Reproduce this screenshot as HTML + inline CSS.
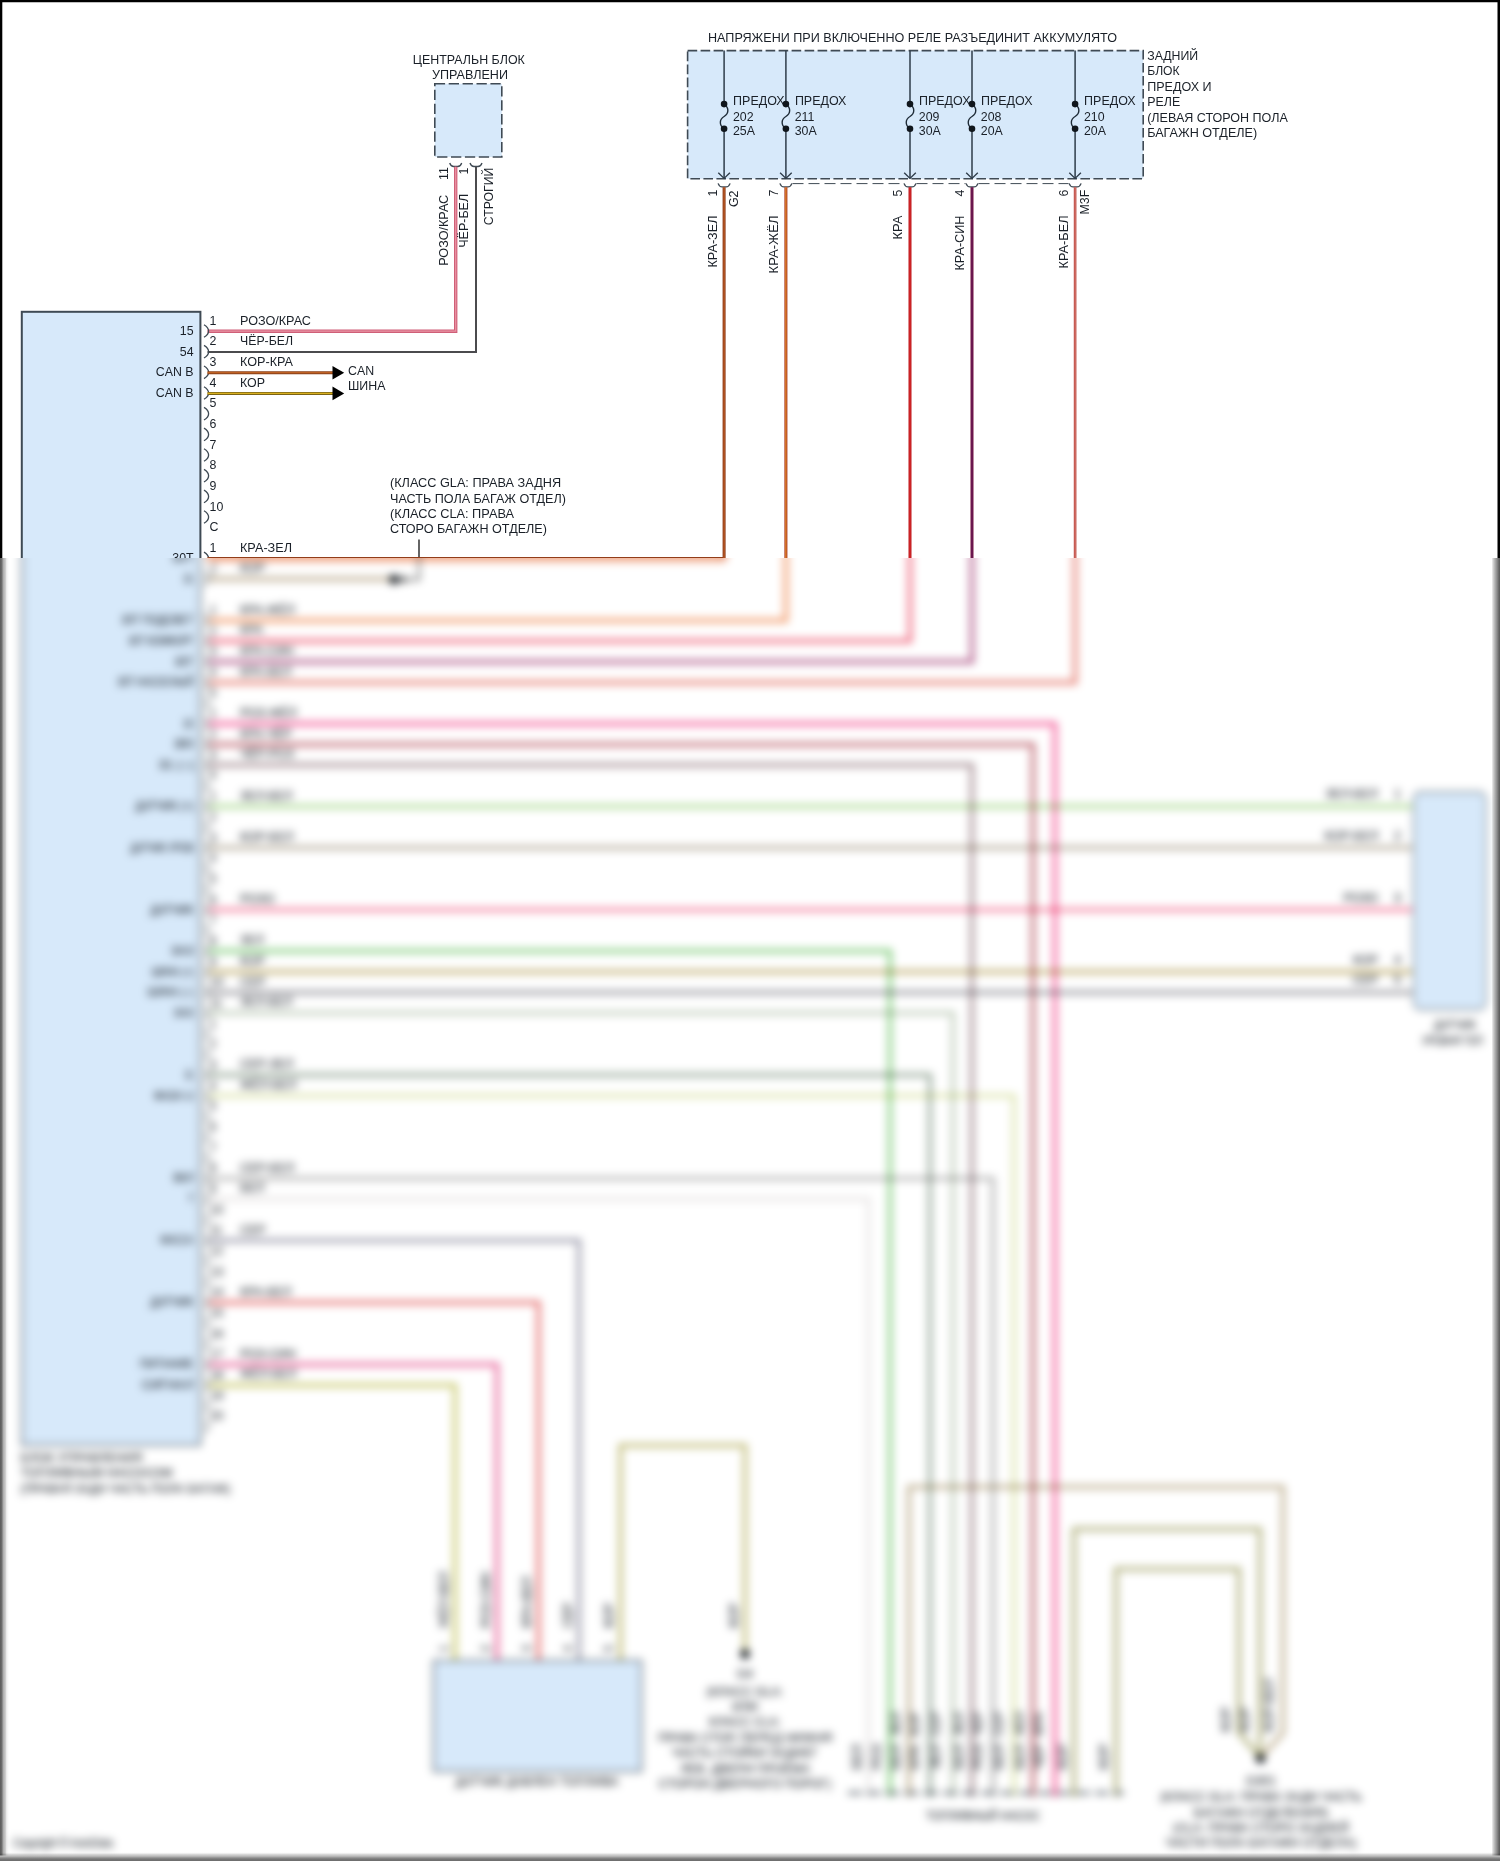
<!DOCTYPE html>
<html lang="ru"><head><meta charset="utf-8"><title>Схема</title>
<style>
html,body{margin:0;padding:0;background:#fff}
svg{display:block}
text{font-family:"Liberation Sans",sans-serif;font-size:13.1px;fill:#1a2028}
.w{mix-blend-mode:multiply}
.b text{stroke:#1a2028;stroke-width:.12px}
</style></head>
<body>
<svg width="1500" height="1861" viewBox="0 0 1500 1861">
<defs>
<filter id="bl" filterUnits="userSpaceOnUse" x="-60" y="440" width="1620" height="1520" color-interpolation-filters="sRGB"><feGaussianBlur stdDeviation="4"/></filter>
<linearGradient id="gl" x1="0" x2="1" y1="0" y2="0"><stop offset="0" stop-color="#000" stop-opacity=".63"/><stop offset=".14" stop-color="#000" stop-opacity=".61"/><stop offset=".28" stop-color="#000" stop-opacity=".45"/><stop offset=".39" stop-color="#000" stop-opacity=".31"/><stop offset=".5" stop-color="#000" stop-opacity=".25"/><stop offset=".61" stop-color="#000" stop-opacity=".19"/><stop offset=".72" stop-color="#000" stop-opacity=".08"/><stop offset=".85" stop-color="#000" stop-opacity=".03"/><stop offset="1" stop-color="#000" stop-opacity="0"/></linearGradient>
<linearGradient id="gr" x1="1" x2="0" y1="0" y2="0"><stop offset="0.0" stop-color="#000" stop-opacity="0.65"/><stop offset="0.111" stop-color="#000" stop-opacity="0.61"/><stop offset="0.333" stop-color="#000" stop-opacity="0.45"/><stop offset="0.556" stop-color="#000" stop-opacity="0.31"/><stop offset="0.778" stop-color="#000" stop-opacity="0.16"/><stop offset="0.944" stop-color="#000" stop-opacity="0"/><stop offset="1.0" stop-color="#000" stop-opacity="0"/></linearGradient>
<linearGradient id="gb" x1="0" x2="0" y1="1" y2="0"><stop offset="0.0" stop-color="#000" stop-opacity="0.57"/><stop offset="0.111" stop-color="#000" stop-opacity="0.56"/><stop offset="0.222" stop-color="#000" stop-opacity="0.52"/><stop offset="0.333" stop-color="#000" stop-opacity="0.45"/><stop offset="0.444" stop-color="#000" stop-opacity="0.35"/><stop offset="0.556" stop-color="#000" stop-opacity="0.25"/><stop offset="0.667" stop-color="#000" stop-opacity="0.2"/><stop offset="0.778" stop-color="#000" stop-opacity="0.12"/><stop offset="0.889" stop-color="#000" stop-opacity="0.02"/><stop offset="1.0" stop-color="#000" stop-opacity="0"/></linearGradient>
<filter id="idf" filterUnits="userSpaceOnUse" x="0" y="0" width="1500" height="600" color-interpolation-filters="sRGB"><feOffset dx="0" dy="0"/></filter>
<clipPath id="ct"><rect x="0" y="0" width="1500" height="558"/></clipPath>
<clipPath id="cb"><rect x="0" y="558" width="1500" height="1303"/></clipPath>
</defs>
<rect width="1500" height="1861" fill="#fff"/>
<g clip-path="url(#ct)"><g filter="url(#idf)">
<text transform="translate(468.8 63.8) scale(0.945 1)" text-anchor="middle" textLength="118.5" lengthAdjust="spacingAndGlyphs">ЦЕНТРАЛЬН БЛОК</text>
<text transform="translate(470 79.2) scale(0.945 1)" text-anchor="middle" textLength="80.4" lengthAdjust="spacingAndGlyphs">УПРАВЛЕНИ</text>
<rect x="434.8" y="83.8" width="67" height="73.2" fill="#d7e9fa" stroke="#3f4a54" stroke-width="1.6" stroke-dasharray="10.3 3.6"/>
<path d="M449.7 163 Q450.9 166.5 453.7 166.5 L457.7 166.5 Q460.5 166.5 461.7 163" stroke="#3f4a54" stroke-width="1.3" fill="none"/>
<path d="M470 163 Q471.2 166.5 474 166.5 L478 166.5 Q480.8 166.5 482 163" stroke="#3f4a54" stroke-width="1.3" fill="none"/>
<path d="M455.7 166.8 L455.7 331.2 L207.5 331.2" stroke="#cf5f78" stroke-width="3.4" fill="none" stroke-linejoin="miter"/><path d="M455.7 166.8 L455.7 331.2 L207.5 331.2" stroke="#ea94a4" stroke-width="1.2" fill="none" stroke-linejoin="miter"/>
<path d="M476 166.8 L476 352 L207.5 352" stroke="#4b4b4e" stroke-width="2.0" fill="none" stroke-linejoin="miter"/>
<text transform="translate(448.3 180) rotate(-90) scale(0.945 1)">11</text>
<text transform="translate(448.3 265.8) rotate(-90) scale(0.945 1)" textLength="75.1" lengthAdjust="spacingAndGlyphs">РОЗО/КРАС</text>
<text transform="translate(467.7 174.5) rotate(-90) scale(0.945 1)">1</text>
<text transform="translate(467.7 247.8) rotate(-90) scale(0.945 1)" textLength="57.1" lengthAdjust="spacingAndGlyphs">ЧЁР-БЕЛ</text>
<text transform="translate(492.6 225.2) rotate(-90) scale(0.945 1)" textLength="60.8" lengthAdjust="spacingAndGlyphs">СТРОГИЙ</text>
<text transform="translate(708 42.3) scale(0.945 1)" textLength="432.8" lengthAdjust="spacingAndGlyphs">НАПРЯЖЕНИ ПРИ ВКЛЮЧЕННО РЕЛЕ РАЗЪЕДИНИТ АККУМУЛЯТО</text>
<rect x="687.6" y="50.6" width="455.6" height="128.2" fill="#d7e9fa" stroke="#3f4a54" stroke-width="1.6" stroke-dasharray="9.6 3.4"/>
<path d="M792.5 183.6 H903.5 M916.5 183.6 H965.5 M978.5 183.6 H1068.5" stroke="#3f4a54" stroke-width="1" stroke-dasharray="11 5"/>
<path d="M724.1 50.6 V104 M724.1 128.7 V178.2" stroke="#2f3d4a" stroke-width="1.5"/>
<path d="M724.1 104 C729.6 108 728.6 114 724.1 116.5 C719.6 119 718.6 125 724.1 128.6" stroke="#1f2c38" stroke-width="1.4" fill="none"/>
<circle cx="724.1" cy="104.1" r="3.3" fill="#10161c"/><circle cx="724.1" cy="128.7" r="3.3" fill="#10161c"/>
<path d="M718.3000000000001 172.8 L724.1 178.4 L729.9 172.8" stroke="#2f3d4a" stroke-width="1.4" fill="none"/>
<path d="M718.1 183.4 Q719.3000000000001 186.9 722.1 186.9 L726.1 186.9 Q728.9 186.9 730.1 183.4" stroke="#3f4a54" stroke-width="1.3" fill="none"/>
<text transform="translate(733.1 105.4) scale(0.945 1)" textLength="54.5" lengthAdjust="spacingAndGlyphs">ПРЕДОХ</text>
<text transform="translate(732.9 121.1) scale(0.945 1)">202</text>
<text transform="translate(732.9 134.5) scale(0.945 1)">25A</text>
<path d="M785.9 50.6 V104 M785.9 128.7 V178.2" stroke="#2f3d4a" stroke-width="1.5"/>
<path d="M785.9 104 C791.4 108 790.4 114 785.9 116.5 C781.4 119 780.4 125 785.9 128.6" stroke="#1f2c38" stroke-width="1.4" fill="none"/>
<circle cx="785.9" cy="104.1" r="3.3" fill="#10161c"/><circle cx="785.9" cy="128.7" r="3.3" fill="#10161c"/>
<path d="M780.1 172.8 L785.9 178.4 L791.6999999999999 172.8" stroke="#2f3d4a" stroke-width="1.4" fill="none"/>
<path d="M779.9 183.4 Q781.1 186.9 783.9 186.9 L787.9 186.9 Q790.6999999999999 186.9 791.9 183.4" stroke="#3f4a54" stroke-width="1.3" fill="none"/>
<text transform="translate(794.9 105.4) scale(0.945 1)" textLength="54.5" lengthAdjust="spacingAndGlyphs">ПРЕДОХ</text>
<text transform="translate(794.6999999999999 121.1) scale(0.945 1)">211</text>
<text transform="translate(794.6999999999999 134.5) scale(0.945 1)">30A</text>
<path d="M910.0 50.6 V104 M910.0 128.7 V178.2" stroke="#2f3d4a" stroke-width="1.5"/>
<path d="M910.0 104 C915.5 108 914.5 114 910.0 116.5 C905.5 119 904.5 125 910.0 128.6" stroke="#1f2c38" stroke-width="1.4" fill="none"/>
<circle cx="910.0" cy="104.1" r="3.3" fill="#10161c"/><circle cx="910.0" cy="128.7" r="3.3" fill="#10161c"/>
<path d="M904.2 172.8 L910.0 178.4 L915.8 172.8" stroke="#2f3d4a" stroke-width="1.4" fill="none"/>
<path d="M904.0 183.4 Q905.2 186.9 908.0 186.9 L912.0 186.9 Q914.8 186.9 916.0 183.4" stroke="#3f4a54" stroke-width="1.3" fill="none"/>
<text transform="translate(919.0 105.4) scale(0.945 1)" textLength="54.5" lengthAdjust="spacingAndGlyphs">ПРЕДОХ</text>
<text transform="translate(918.8 121.1) scale(0.945 1)">209</text>
<text transform="translate(918.8 134.5) scale(0.945 1)">30A</text>
<path d="M972.0 50.6 V104 M972.0 128.7 V178.2" stroke="#2f3d4a" stroke-width="1.5"/>
<path d="M972.0 104 C977.5 108 976.5 114 972.0 116.5 C967.5 119 966.5 125 972.0 128.6" stroke="#1f2c38" stroke-width="1.4" fill="none"/>
<circle cx="972.0" cy="104.1" r="3.3" fill="#10161c"/><circle cx="972.0" cy="128.7" r="3.3" fill="#10161c"/>
<path d="M966.2 172.8 L972.0 178.4 L977.8 172.8" stroke="#2f3d4a" stroke-width="1.4" fill="none"/>
<path d="M966.0 183.4 Q967.2 186.9 970.0 186.9 L974.0 186.9 Q976.8 186.9 978.0 183.4" stroke="#3f4a54" stroke-width="1.3" fill="none"/>
<text transform="translate(981.0 105.4) scale(0.945 1)" textLength="54.5" lengthAdjust="spacingAndGlyphs">ПРЕДОХ</text>
<text transform="translate(980.8 121.1) scale(0.945 1)">208</text>
<text transform="translate(980.8 134.5) scale(0.945 1)">20A</text>
<path d="M1075.1 50.6 V104 M1075.1 128.7 V178.2" stroke="#2f3d4a" stroke-width="1.5"/>
<path d="M1075.1 104 C1080.6 108 1079.6 114 1075.1 116.5 C1070.6 119 1069.6 125 1075.1 128.6" stroke="#1f2c38" stroke-width="1.4" fill="none"/>
<circle cx="1075.1" cy="104.1" r="3.3" fill="#10161c"/><circle cx="1075.1" cy="128.7" r="3.3" fill="#10161c"/>
<path d="M1069.3 172.8 L1075.1 178.4 L1080.8999999999999 172.8" stroke="#2f3d4a" stroke-width="1.4" fill="none"/>
<path d="M1069.1 183.4 Q1070.3 186.9 1073.1 186.9 L1077.1 186.9 Q1079.8999999999999 186.9 1081.1 183.4" stroke="#3f4a54" stroke-width="1.3" fill="none"/>
<text transform="translate(1084.1 105.4) scale(0.945 1)" textLength="54.5" lengthAdjust="spacingAndGlyphs">ПРЕДОХ</text>
<text transform="translate(1083.8999999999999 121.1) scale(0.945 1)">210</text>
<text transform="translate(1083.8999999999999 134.5) scale(0.945 1)">20A</text>
<text transform="translate(1147.2 59.5) scale(0.945 1)" textLength="54.0" lengthAdjust="spacingAndGlyphs">ЗАДНИЙ</text>
<text transform="translate(1147.2 75.2) scale(0.945 1)" textLength="34.3" lengthAdjust="spacingAndGlyphs">БЛОК</text>
<text transform="translate(1147.2 90.6) scale(0.945 1)" textLength="68.1" lengthAdjust="spacingAndGlyphs">ПРЕДОХ И</text>
<text transform="translate(1147.2 106) scale(0.945 1)" textLength="34.9" lengthAdjust="spacingAndGlyphs">РЕЛЕ</text>
<text transform="translate(1147.2 121.6) scale(0.945 1)" textLength="148.8" lengthAdjust="spacingAndGlyphs">(ЛЕВАЯ СТОРОН ПОЛА</text>
<text transform="translate(1147.2 137) scale(0.945 1)" textLength="116.4" lengthAdjust="spacingAndGlyphs">БАГАЖН ОТДЕЛЕ)</text>
<path d="M785.9 187.2 L785.9 600" stroke="#a8321e" stroke-width="3.0" fill="none" stroke-linejoin="miter"/><path d="M785.9 187.2 L785.9 600" stroke="#f0a030" stroke-width="1.0" fill="none" stroke-linejoin="miter"/>
<path d="M910.0 187.2 L910.0 600" stroke="#be1a20" stroke-width="3.0" fill="none" stroke-linejoin="miter"/><path d="M910.0 187.2 L910.0 600" stroke="#d82a2a" stroke-width="1.0" fill="none" stroke-linejoin="miter"/>
<path d="M972.0 187.2 L972.0 600" stroke="#7a1440" stroke-width="3.0" fill="none" stroke-linejoin="miter"/><path d="M972.0 187.2 L972.0 600" stroke="#5a1a5c" stroke-width="1.0" fill="none" stroke-linejoin="miter"/>
<path d="M1075.1 187.2 L1075.1 600" stroke="#b43c36" stroke-width="2.6" fill="none" stroke-linejoin="miter"/><path d="M1075.1 187.2 L1075.1 600" stroke="#e08a80" stroke-width="1.0" fill="none" stroke-linejoin="miter"/>
<text transform="translate(716.5 196.5) rotate(-90) scale(0.945 1)">1</text>
<text transform="translate(738.4 207) rotate(-90) scale(0.945 1)">G2</text>
<text transform="translate(716.5 267.5) rotate(-90) scale(0.945 1)" textLength="55.0" lengthAdjust="spacingAndGlyphs">КРА-ЗЕЛ</text>
<text transform="translate(778.3 196.5) rotate(-90) scale(0.945 1)">7</text>
<text transform="translate(778.3 273.5) rotate(-90) scale(0.945 1)" textLength="61.4" lengthAdjust="spacingAndGlyphs">КРА-ЖЁЛ</text>
<text transform="translate(902.4 196.5) rotate(-90) scale(0.945 1)">5</text>
<text transform="translate(902.4 239.5) rotate(-90) scale(0.945 1)" textLength="25.4" lengthAdjust="spacingAndGlyphs">КРА</text>
<text transform="translate(964.4 196.5) rotate(-90) scale(0.945 1)">4</text>
<text transform="translate(964.4 270.5) rotate(-90) scale(0.945 1)" textLength="58.2" lengthAdjust="spacingAndGlyphs">КРА-СИН</text>
<text transform="translate(1067.5 196.5) rotate(-90) scale(0.945 1)">6</text>
<text transform="translate(1089.3999999999999 214.5) rotate(-90) scale(0.945 1)">M3F</text>
<text transform="translate(1067.5 268.5) rotate(-90) scale(0.945 1)" textLength="56.1" lengthAdjust="spacingAndGlyphs">КРА-БЕЛ</text>
<rect x="21.8" y="311.8" width="178.6" height="1133.4" fill="#d7e9fa" stroke="#3f4a54" stroke-width="2"/>
<text transform="translate(193.6 334.8) scale(0.945 1)" text-anchor="end">15</text>
<text transform="translate(193.6 355.5) scale(0.945 1)" text-anchor="end">54</text>
<text transform="translate(193.6 376.1) scale(0.945 1)" text-anchor="end">CAN B</text>
<text transform="translate(193.6 396.8) scale(0.945 1)" text-anchor="end">CAN B</text>
<text transform="translate(193.6 561.6) scale(0.945 1)" text-anchor="end">30T</text>
<text transform="translate(209.6 324.7) scale(0.945 1)">1</text>
<text transform="translate(209.6 345.4) scale(0.945 1)">2</text>
<text transform="translate(209.6 366.0) scale(0.945 1)">3</text>
<text transform="translate(209.6 386.7) scale(0.945 1)">4</text>
<text transform="translate(209.6 407.4) scale(0.945 1)">5</text>
<text transform="translate(209.6 428.09999999999997) scale(0.945 1)">6</text>
<text transform="translate(209.6 448.7) scale(0.945 1)">7</text>
<text transform="translate(209.6 469.4) scale(0.945 1)">8</text>
<text transform="translate(209.6 490.09999999999997) scale(0.945 1)">9</text>
<text transform="translate(209.6 510.7) scale(0.945 1)">10</text>
<text transform="translate(209.6 531.4000000000001) scale(0.945 1)">C</text>
<text transform="translate(209.6 552.1) scale(0.945 1)">1</text>
<path d="M204 324.7 Q208.6 327.5 208.6 331.0 Q208.6 334.5 204 337.3" stroke="#3f4a54" stroke-width="1.3" fill="none"/>
<path d="M204 345.4 Q208.6 348.2 208.6 351.7 Q208.6 355.2 204 358.0" stroke="#3f4a54" stroke-width="1.3" fill="none"/>
<path d="M204 366.0 Q208.6 368.8 208.6 372.3 Q208.6 375.8 204 378.6" stroke="#3f4a54" stroke-width="1.3" fill="none"/>
<path d="M204 386.7 Q208.6 389.5 208.6 393.0 Q208.6 396.5 204 399.3" stroke="#3f4a54" stroke-width="1.3" fill="none"/>
<path d="M204 407.4 Q208.6 410.2 208.6 413.7 Q208.6 417.2 204 420.0" stroke="#3f4a54" stroke-width="1.3" fill="none"/>
<path d="M204 428.09999999999997 Q208.6 430.9 208.6 434.4 Q208.6 437.9 204 440.7" stroke="#3f4a54" stroke-width="1.3" fill="none"/>
<path d="M204 448.7 Q208.6 451.5 208.6 455.0 Q208.6 458.5 204 461.3" stroke="#3f4a54" stroke-width="1.3" fill="none"/>
<path d="M204 469.4 Q208.6 472.2 208.6 475.7 Q208.6 479.2 204 482.0" stroke="#3f4a54" stroke-width="1.3" fill="none"/>
<path d="M204 490.09999999999997 Q208.6 492.9 208.6 496.4 Q208.6 499.9 204 502.7" stroke="#3f4a54" stroke-width="1.3" fill="none"/>
<path d="M204 510.7 Q208.6 513.5 208.6 517.0 Q208.6 520.5 204 523.3" stroke="#3f4a54" stroke-width="1.3" fill="none"/>
<path d="M204 552.1 Q208.6 554.9 208.6 558.4 Q208.6 561.9 204 564.6999999999999" stroke="#3f4a54" stroke-width="1.3" fill="none"/>
<text transform="translate(240 324.6) scale(0.945 1)" textLength="75.1" lengthAdjust="spacingAndGlyphs">РОЗО/КРАС</text>
<text transform="translate(240 345.3) scale(0.945 1)" textLength="56.1" lengthAdjust="spacingAndGlyphs">ЧЁР-БЕЛ</text>
<text transform="translate(240 365.90000000000003) scale(0.945 1)" textLength="56.1" lengthAdjust="spacingAndGlyphs">КОР-КРА</text>
<text transform="translate(240 386.6) scale(0.945 1)" textLength="26.5" lengthAdjust="spacingAndGlyphs">КОР</text>
<text transform="translate(240 552.0) scale(0.945 1)" textLength="55.0" lengthAdjust="spacingAndGlyphs">КРА-ЗЕЛ</text>
<path d="M207.5 372.7 L334 372.7" stroke="#8c4018" stroke-width="3.0" fill="none" stroke-linejoin="miter"/><path d="M207.5 372.7 L334 372.7" stroke="#cc6a28" stroke-width="1.0" fill="none" stroke-linejoin="miter"/>
<path d="M207.5 393.4 L334 393.4" stroke="#7c6414" stroke-width="3.0" fill="none" stroke-linejoin="miter"/><path d="M207.5 393.4 L334 393.4" stroke="#d8b020" stroke-width="1.1" fill="none" stroke-linejoin="miter"/>
<path d="M332.5 365.9 L344.2 372.7 L332.5 379.5 Z" fill="#000"/>
<path d="M332.5 386.59999999999997 L344.2 393.4 L332.5 400.2 Z" fill="#000"/>
<text transform="translate(348 375) scale(0.945 1)">CAN</text>
<text transform="translate(348 390.4) scale(0.945 1)">ШИНА</text>
<text transform="translate(390 487.2) scale(0.945 1)" textLength="181.0" lengthAdjust="spacingAndGlyphs">(КЛАСС GLA: ПРАВА ЗАДНЯ</text>
<text transform="translate(390 502.6) scale(0.945 1)" textLength="186.2" lengthAdjust="spacingAndGlyphs">ЧАСТЬ ПОЛА БАГАЖ ОТДЕЛ)</text>
<text transform="translate(390 518) scale(0.945 1)" textLength="131.2" lengthAdjust="spacingAndGlyphs">(КЛАСС CLA: ПРАВА</text>
<text transform="translate(390 533.4) scale(0.945 1)" textLength="166.1" lengthAdjust="spacingAndGlyphs">СТОРО БАГАЖН ОТДЕЛЕ)</text>
<path d="M419 539.5 V600" stroke="#111" stroke-width="1.3"/>
<path d="M207.5 558.4 L724.1 558.4 L724.1 187.2" stroke="#8c3a18" stroke-width="3.0" fill="none" stroke-linejoin="miter"/><path d="M207.5 558.4 L724.1 558.4 L724.1 187.2" stroke="#c86428" stroke-width="1.0" fill="none" stroke-linejoin="miter"/>
<path d="M0 1.15 H1500" stroke="#000" stroke-width="2.3"/><path d="M1.15 0 V1861" stroke="#000" stroke-width="2.3"/><path d="M1498.75 0 V1861" stroke="#000" stroke-width="2.5"/>
</g></g>
<g clip-path="url(#cb)"><g filter="url(#bl)" class="b">
<rect x="-60" y="440" width="1620" height="1520" fill="#fff"/>
<rect x="21.8" y="311.8" width="178.6" height="1133.4" fill="#d7e9fa" stroke="#3f4a54" stroke-width="1.5"/>
<rect x="207" y="520" width="518.6" height="41.8" fill="#efa98a"/>
<text transform="translate(193.6 561.6) scale(0.945 1)" text-anchor="end">30T</text>
<path class="w" d="M207 579.0 L394 579.0" stroke="#ab9573" stroke-width="9" stroke-opacity=".04" fill="none"/><path class="w" d="M207 579.0 L394 579.0" stroke="#ab9573" stroke-width="3.0" fill="none"/>
<path class="w" d="M207 620.4 L785.9 620.4 L785.9 500" stroke="#f08142" stroke-width="9" stroke-opacity=".04" fill="none"/><path class="w" d="M207 620.4 L785.9 620.4 L785.9 500" stroke="#f08142" stroke-width="3.0" fill="none"/>
<path class="w" d="M207 641.0 L910 641.0 L910 500" stroke="#ed4460" stroke-width="9" stroke-opacity=".04" fill="none"/><path class="w" d="M207 641.0 L910 641.0 L910 500" stroke="#ed4460" stroke-width="3.0" fill="none"/>
<path class="w" d="M207 661.7 L972 661.7 L972 500" stroke="#a13471" stroke-width="9" stroke-opacity=".04" fill="none"/><path class="w" d="M207 661.7 L972 661.7 L972 500" stroke="#a13471" stroke-width="3.0" fill="none"/>
<path class="w" d="M207 682.4 L1075.1 682.4 L1075.1 500" stroke="#e06153" stroke-width="9" stroke-opacity=".04" fill="none"/><path class="w" d="M207 682.4 L1075.1 682.4 L1075.1 500" stroke="#e06153" stroke-width="3.0" fill="none"/>
<path class="w" d="M207 723.7 L1055 723.7 L1055 1797" stroke="#f23481" stroke-width="9" stroke-opacity=".04" fill="none"/><path class="w" d="M207 723.7 L1055 723.7 L1055 1797" stroke="#f23481" stroke-width="3.0" fill="none"/>
<path class="w" d="M207 744.4 L1033 744.4 L1033 1797" stroke="#b14453" stroke-width="9" stroke-opacity=".04" fill="none"/><path class="w" d="M207 744.4 L1033 744.4 L1033 1797" stroke="#b14453" stroke-width="3.0" fill="none"/>
<path class="w" d="M207 765.1 L972 765.1 L972 1797" stroke="#8f737a" stroke-width="9" stroke-opacity=".04" fill="none"/><path class="w" d="M207 765.1 L972 765.1 L972 1797" stroke="#8f737a" stroke-width="3.0" fill="none"/>
<path class="w" d="M207 806.4 L1412 806.4" stroke="#9ad27a" stroke-width="9" stroke-opacity=".04" fill="none"/><path class="w" d="M207 806.4 L1412 806.4" stroke="#9ad27a" stroke-width="3.0" fill="none"/>
<path class="w" d="M207 847.8 L1412 847.8" stroke="#a69d88" stroke-width="9" stroke-opacity=".04" fill="none"/><path class="w" d="M207 847.8 L1412 847.8" stroke="#a69d88" stroke-width="3.0" fill="none"/>
<path class="w" d="M207 909.8 L1412 909.8" stroke="#f2658c" stroke-width="9" stroke-opacity=".04" fill="none"/><path class="w" d="M207 909.8 L1412 909.8" stroke="#f2658c" stroke-width="3.0" fill="none"/>
<path class="w" d="M207 951.1 L890 951.1 L890 1797" stroke="#65c15e" stroke-width="9" stroke-opacity=".04" fill="none"/><path class="w" d="M207 951.1 L890 951.1 L890 1797" stroke="#65c15e" stroke-width="3.0" fill="none"/>
<path class="w" d="M207 971.8 L1412 971.8" stroke="#b29d50" stroke-width="9" stroke-opacity=".04" fill="none"/><path class="w" d="M207 971.8 L1412 971.8" stroke="#b29d50" stroke-width="3.0" fill="none"/>
<path class="w" d="M207 992.4 L1412 992.4" stroke="#81818a" stroke-width="9" stroke-opacity=".04" fill="none"/><path class="w" d="M207 992.4 L1412 992.4" stroke="#81818a" stroke-width="3.0" fill="none"/>
<path class="w" d="M207 1013.1 L953 1013.1 L953 1797" stroke="#b2c1ab" stroke-width="9" stroke-opacity=".04" fill="none"/><path class="w" d="M207 1013.1 L953 1013.1 L953 1797" stroke="#b2c1ab" stroke-width="3.0" fill="none"/>
<path class="w" d="M207 1075.1 L930 1075.1 L930 1797" stroke="#7e9381" stroke-width="9" stroke-opacity=".04" fill="none"/><path class="w" d="M207 1075.1 L930 1075.1 L930 1797" stroke="#7e9381" stroke-width="3.0" fill="none"/>
<path class="w" d="M207 1095.8 L1014 1095.8 L1014 1797" stroke="#d6dd9d" stroke-width="9" stroke-opacity=".04" fill="none"/><path class="w" d="M207 1095.8 L1014 1095.8 L1014 1797" stroke="#d6dd9d" stroke-width="3.0" fill="none"/>
<path class="w" d="M207 1178.5 L993 1178.5 L993 1797" stroke="#a6a6a6" stroke-width="9" stroke-opacity=".04" fill="none"/><path class="w" d="M207 1178.5 L993 1178.5 L993 1797" stroke="#a6a6a6" stroke-width="3.0" fill="none"/>
<path class="w" d="M207 1199.1 L868.5 1199.1 L868.5 1797" stroke="#e4e0e0" stroke-width="9" stroke-opacity=".04" fill="none"/><path class="w" d="M207 1199.1 L868.5 1199.1 L868.5 1797" stroke="#e4e0e0" stroke-width="3.0" fill="none"/>
<path class="w" d="M207 1240.5 L579 1240.5 L579 1660" stroke="#85859a" stroke-width="9" stroke-opacity=".04" fill="none"/><path class="w" d="M207 1240.5 L579 1240.5 L579 1660" stroke="#85859a" stroke-width="3.0" fill="none"/>
<path class="w" d="M207 1302.5 L538.5 1302.5 L538.5 1660" stroke="#e05353" stroke-width="9" stroke-opacity=".04" fill="none"/><path class="w" d="M207 1302.5 L538.5 1302.5 L538.5 1660" stroke="#e05353" stroke-width="3.0" fill="none"/>
<path class="w" d="M207 1364.5 L497 1364.5 L497 1660" stroke="#e44588" stroke-width="9" stroke-opacity=".04" fill="none"/><path class="w" d="M207 1364.5 L497 1364.5 L497 1660" stroke="#e44588" stroke-width="3.0" fill="none"/>
<path class="w" d="M207 1385.2 L455 1385.2 L455 1660" stroke="#bdbd49" stroke-width="9" stroke-opacity=".04" fill="none"/><path class="w" d="M207 1385.2 L455 1385.2 L455 1660" stroke="#bdbd49" stroke-width="3.0" fill="none"/>
<path class="w" d="M724.1 500 L724.1 558.4" stroke="#e47c44" stroke-width="9" stroke-opacity=".04" fill="none"/><path class="w" d="M724.1 500 L724.1 558.4" stroke="#e47c44" stroke-width="3.0" fill="none"/>
<path class="w" d="M620.5 1660 L620.5 1445.5 L745 1445.5 L745 1652" stroke="#b2ab57" stroke-width="9" stroke-opacity=".04" fill="none"/><path class="w" d="M620.5 1660 L620.5 1445.5 L745 1445.5 L745 1652" stroke="#b2ab57" stroke-width="3.0" fill="none"/>
<path class="w" d="M909 1797 L909 1487 L1283 1487 L1283 1733 L1261 1757" stroke="#b2a17a" stroke-width="9" stroke-opacity=".04" fill="none"/><path class="w" d="M909 1797 L909 1487 L1283 1487 L1283 1733 L1261 1757" stroke="#b2a17a" stroke-width="3.0" fill="none"/>
<path class="w" d="M1074 1797 L1074 1529 L1260 1529 L1260 1757" stroke="#a1a161" stroke-width="9" stroke-opacity=".04" fill="none"/><path class="w" d="M1074 1797 L1074 1529 L1260 1529 L1260 1757" stroke="#a1a161" stroke-width="3.0" fill="none"/>
<path class="w" d="M1116 1797 L1116 1569 L1239 1569 L1239 1733 L1260 1757" stroke="#a1a161" stroke-width="9" stroke-opacity=".04" fill="none"/><path class="w" d="M1116 1797 L1116 1569 L1239 1569 L1239 1733 L1260 1757" stroke="#a1a161" stroke-width="3.0" fill="none"/>
<rect x="433.5" y="1660.5" width="208" height="111" fill="#d7e9fa" stroke="#3f4a54" stroke-width="1.5"/>
<rect x="1413.5" y="792" width="72.5" height="217.5" rx="7" fill="#d7e9fa" stroke="#5a6670" stroke-width="1.3"/>
<circle cx="394" cy="579.5" r="4.8" fill="#10161c"/>
<circle cx="745" cy="1654" r="4.8" fill="#10161c"/>
<circle cx="1260.5" cy="1758.5" r="4.8" fill="#10161c"/>
<path d="M419 500 V579.5 H399" stroke="#111" stroke-width="1.3" fill="none"/>
<path d="M398 579.5 l7 -3.5 v7 z" fill="#111"/>
<path d="M848 1793 H1124" stroke="#3f4a54" stroke-width="2.4" stroke-dasharray="14 5"/>
<text transform="translate(193.6 582.8) scale(0.945 1)" text-anchor="end" textLength="10.6" lengthAdjust="spacingAndGlyphs">31</text>
<text transform="translate(193.6 624.1999999999999) scale(0.945 1)" text-anchor="end" textLength="76.2" lengthAdjust="spacingAndGlyphs">30T ПОДСВЕТ</text>
<text transform="translate(193.6 644.8) scale(0.945 1)" text-anchor="end" textLength="68.8" lengthAdjust="spacingAndGlyphs">30T КОМФОРТ</text>
<text transform="translate(193.6 665.5) scale(0.945 1)" text-anchor="end" textLength="20.1" lengthAdjust="spacingAndGlyphs">30T</text>
<text transform="translate(193.6 686.1999999999999) scale(0.945 1)" text-anchor="end" textLength="80.4" lengthAdjust="spacingAndGlyphs">30T НАСОСНЫЙ</text>
<text transform="translate(193.6 727.5) scale(0.945 1)" text-anchor="end" textLength="11.6" lengthAdjust="spacingAndGlyphs">15</text>
<text transform="translate(193.6 748.1999999999999) scale(0.945 1)" text-anchor="end" textLength="21.2" lengthAdjust="spacingAndGlyphs">30</text>
<text transform="translate(193.6 768.9) scale(0.945 1)" text-anchor="end" textLength="37.0" lengthAdjust="spacingAndGlyphs">31 (–)</text>
<text transform="translate(193.6 810.1999999999999) scale(0.945 1)" text-anchor="end" textLength="61.4" lengthAdjust="spacingAndGlyphs">ДАТЧИК (+)</text>
<text transform="translate(193.6 851.5999999999999) scale(0.945 1)" text-anchor="end" textLength="66.7" lengthAdjust="spacingAndGlyphs">ДАТЧИК УРОВ</text>
<text transform="translate(193.6 913.5999999999999) scale(0.945 1)" text-anchor="end" textLength="45.5" lengthAdjust="spacingAndGlyphs">ДАТЧИК</text>
<text transform="translate(193.6 954.9) scale(0.945 1)" text-anchor="end" textLength="24.3" lengthAdjust="spacingAndGlyphs">ЗАЗ</text>
<text transform="translate(193.6 975.5999999999999) scale(0.945 1)" text-anchor="end" textLength="44.4" lengthAdjust="spacingAndGlyphs">ШИНА (+)</text>
<text transform="translate(193.6 996.1999999999999) scale(0.945 1)" text-anchor="end" textLength="48.7" lengthAdjust="spacingAndGlyphs">ШИНА (–)</text>
<text transform="translate(193.6 1016.9) scale(0.945 1)" text-anchor="end" textLength="21.2" lengthAdjust="spacingAndGlyphs">ЗАЗ</text>
<text transform="translate(193.6 1078.8999999999999) scale(0.945 1)" text-anchor="end" textLength="9.5" lengthAdjust="spacingAndGlyphs">31</text>
<text transform="translate(193.6 1099.6) scale(0.945 1)" text-anchor="end" textLength="42.3" lengthAdjust="spacingAndGlyphs">ФАЗА U</text>
<text transform="translate(193.6 1182.3) scale(0.945 1)" text-anchor="end" textLength="21.2" lengthAdjust="spacingAndGlyphs">ВКЛ</text>
<text transform="translate(193.6 1202.8999999999999) scale(0.945 1)" text-anchor="end" textLength="6.3" lengthAdjust="spacingAndGlyphs">Т</text>
<text transform="translate(193.6 1244.3) scale(0.945 1)" text-anchor="end" textLength="34.9" lengthAdjust="spacingAndGlyphs">МАССА</text>
<text transform="translate(193.6 1306.3) scale(0.945 1)" text-anchor="end" textLength="45.5" lengthAdjust="spacingAndGlyphs">ДАТЧИК</text>
<text transform="translate(193.6 1368.3) scale(0.945 1)" text-anchor="end" textLength="57.1" lengthAdjust="spacingAndGlyphs">ПИТАНИЕ</text>
<text transform="translate(193.6 1389.0) scale(0.945 1)" text-anchor="end" textLength="55.0" lengthAdjust="spacingAndGlyphs">СИГНАЛ</text>
<text transform="translate(240 572.2) scale(0.945 1)">КОР</text>
<text transform="translate(240 613.6) scale(0.945 1)">КРА-ЖЁЛ</text>
<text transform="translate(240 634.2) scale(0.945 1)">КРА</text>
<text transform="translate(240 654.9000000000001) scale(0.945 1)">КРА-СИН</text>
<text transform="translate(240 675.6) scale(0.945 1)">КРА-БЕЛ</text>
<text transform="translate(240 716.9000000000001) scale(0.945 1)">РОЗ-ЖЁЛ</text>
<text transform="translate(240 737.6) scale(0.945 1)">КРА-ЧЁР</text>
<text transform="translate(240 758.3000000000001) scale(0.945 1)">ЧЁР-РОЗ</text>
<text transform="translate(240 799.6) scale(0.945 1)">ЗЕЛ-БЕЛ</text>
<text transform="translate(240 841.0) scale(0.945 1)">КОР-БЕЛ</text>
<text transform="translate(240 903.0) scale(0.945 1)">РОЗО</text>
<text transform="translate(240 944.3000000000001) scale(0.945 1)">ЗЕЛ</text>
<text transform="translate(240 965.0) scale(0.945 1)">КОР</text>
<text transform="translate(240 985.6) scale(0.945 1)">СЕР</text>
<text transform="translate(240 1006.3000000000001) scale(0.945 1)">ЗЕЛ-БЕЛ</text>
<text transform="translate(240 1068.3) scale(0.945 1)">СЕР-ЗЕЛ</text>
<text transform="translate(240 1089.0) scale(0.945 1)">ЖЁЛ-БЕЛ</text>
<text transform="translate(240 1171.7) scale(0.945 1)">СЕР-БЕЛ</text>
<text transform="translate(240 1192.3) scale(0.945 1)">БЕЛ</text>
<text transform="translate(240 1233.7) scale(0.945 1)">СЕР</text>
<text transform="translate(240 1295.7) scale(0.945 1)">КРА-БЕЛ</text>
<text transform="translate(240 1357.7) scale(0.945 1)">РОЗ-СИН</text>
<text transform="translate(240 1378.4) scale(0.945 1)">ЖЁЛ-БЕЛ</text>
<text transform="translate(209.6 572.7) scale(0.945 1)" fill="#98a2ac">2</text>
<path d="M204 572.7 Q208.6 575.5 208.6 579.0 Q208.6 582.5 204 585.3" stroke="#3f4a54" stroke-width="1.3" fill="none"/>
<text transform="translate(209.6 614.1) scale(0.945 1)" fill="#98a2ac">1</text>
<path d="M204 614.1 Q208.6 616.9 208.6 620.4 Q208.6 623.9 204 626.6999999999999" stroke="#3f4a54" stroke-width="1.3" fill="none"/>
<text transform="translate(209.6 634.7) scale(0.945 1)" fill="#98a2ac">2</text>
<path d="M204 634.7 Q208.6 637.5 208.6 641.0 Q208.6 644.5 204 647.3" stroke="#3f4a54" stroke-width="1.3" fill="none"/>
<text transform="translate(209.6 655.4000000000001) scale(0.945 1)" fill="#98a2ac">3</text>
<path d="M204 655.4000000000001 Q208.6 658.2 208.6 661.7 Q208.6 665.2 204 668.0" stroke="#3f4a54" stroke-width="1.3" fill="none"/>
<text transform="translate(209.6 676.1) scale(0.945 1)" fill="#98a2ac">4</text>
<path d="M204 676.1 Q208.6 678.9 208.6 682.4 Q208.6 685.9 204 688.6999999999999" stroke="#3f4a54" stroke-width="1.3" fill="none"/>
<text transform="translate(209.6 696.8000000000001) scale(0.945 1)" fill="#98a2ac">5</text>
<path d="M204 696.8000000000001 Q208.6 699.6 208.6 703.1 Q208.6 706.6 204 709.4" stroke="#3f4a54" stroke-width="1.3" fill="none"/>
<text transform="translate(209.6 717.4000000000001) scale(0.945 1)" fill="#98a2ac">1</text>
<path d="M204 717.4000000000001 Q208.6 720.2 208.6 723.7 Q208.6 727.2 204 730.0" stroke="#3f4a54" stroke-width="1.3" fill="none"/>
<text transform="translate(209.6 738.1) scale(0.945 1)" fill="#98a2ac">2</text>
<path d="M204 738.1 Q208.6 740.9 208.6 744.4 Q208.6 747.9 204 750.6999999999999" stroke="#3f4a54" stroke-width="1.3" fill="none"/>
<text transform="translate(209.6 758.8000000000001) scale(0.945 1)" fill="#98a2ac">3</text>
<path d="M204 758.8000000000001 Q208.6 761.6 208.6 765.1 Q208.6 768.6 204 771.4" stroke="#3f4a54" stroke-width="1.3" fill="none"/>
<text transform="translate(209.6 779.4000000000001) scale(0.945 1)" fill="#98a2ac">4</text>
<path d="M204 779.4000000000001 Q208.6 782.2 208.6 785.7 Q208.6 789.2 204 792.0" stroke="#3f4a54" stroke-width="1.3" fill="none"/>
<text transform="translate(209.6 800.1) scale(0.945 1)" fill="#98a2ac">1</text>
<path d="M204 800.1 Q208.6 802.9 208.6 806.4 Q208.6 809.9 204 812.6999999999999" stroke="#3f4a54" stroke-width="1.3" fill="none"/>
<text transform="translate(209.6 820.8000000000001) scale(0.945 1)" fill="#98a2ac">2</text>
<path d="M204 820.8000000000001 Q208.6 823.6 208.6 827.1 Q208.6 830.6 204 833.4" stroke="#3f4a54" stroke-width="1.3" fill="none"/>
<text transform="translate(209.6 841.5) scale(0.945 1)" fill="#98a2ac">3</text>
<path d="M204 841.5 Q208.6 844.3 208.6 847.8 Q208.6 851.3 204 854.0999999999999" stroke="#3f4a54" stroke-width="1.3" fill="none"/>
<text transform="translate(209.6 862.1) scale(0.945 1)" fill="#98a2ac">4</text>
<path d="M204 862.1 Q208.6 864.9 208.6 868.4 Q208.6 871.9 204 874.6999999999999" stroke="#3f4a54" stroke-width="1.3" fill="none"/>
<text transform="translate(209.6 882.8000000000001) scale(0.945 1)" fill="#98a2ac">5</text>
<path d="M204 882.8000000000001 Q208.6 885.6 208.6 889.1 Q208.6 892.6 204 895.4" stroke="#3f4a54" stroke-width="1.3" fill="none"/>
<text transform="translate(209.6 903.5) scale(0.945 1)" fill="#98a2ac">6</text>
<path d="M204 903.5 Q208.6 906.3 208.6 909.8 Q208.6 913.3 204 916.0999999999999" stroke="#3f4a54" stroke-width="1.3" fill="none"/>
<text transform="translate(209.6 924.1) scale(0.945 1)" fill="#98a2ac">7</text>
<path d="M204 924.1 Q208.6 926.9 208.6 930.4 Q208.6 933.9 204 936.6999999999999" stroke="#3f4a54" stroke-width="1.3" fill="none"/>
<text transform="translate(209.6 944.8000000000001) scale(0.945 1)" fill="#98a2ac">8</text>
<path d="M204 944.8000000000001 Q208.6 947.6 208.6 951.1 Q208.6 954.6 204 957.4" stroke="#3f4a54" stroke-width="1.3" fill="none"/>
<text transform="translate(209.6 965.5) scale(0.945 1)" fill="#98a2ac">9</text>
<path d="M204 965.5 Q208.6 968.3 208.6 971.8 Q208.6 975.3 204 978.0999999999999" stroke="#3f4a54" stroke-width="1.3" fill="none"/>
<text transform="translate(209.6 986.1) scale(0.945 1)" fill="#98a2ac">10</text>
<path d="M204 986.1 Q208.6 988.9 208.6 992.4 Q208.6 995.9 204 998.6999999999999" stroke="#3f4a54" stroke-width="1.3" fill="none"/>
<text transform="translate(209.6 1006.8000000000001) scale(0.945 1)" fill="#98a2ac">11</text>
<path d="M204 1006.8000000000001 Q208.6 1009.6 208.6 1013.1 Q208.6 1016.6 204 1019.4" stroke="#3f4a54" stroke-width="1.3" fill="none"/>
<text transform="translate(209.6 1027.5) scale(0.945 1)" fill="#98a2ac">1</text>
<path d="M204 1027.5 Q208.6 1030.3 208.6 1033.8 Q208.6 1037.3 204 1040.1" stroke="#3f4a54" stroke-width="1.3" fill="none"/>
<text transform="translate(209.6 1048.2) scale(0.945 1)" fill="#98a2ac">2</text>
<path d="M204 1048.2 Q208.6 1051.0 208.6 1054.5 Q208.6 1058.0 204 1060.8" stroke="#3f4a54" stroke-width="1.3" fill="none"/>
<text transform="translate(209.6 1068.8) scale(0.945 1)" fill="#98a2ac">3</text>
<path d="M204 1068.8 Q208.6 1071.6 208.6 1075.1 Q208.6 1078.6 204 1081.3999999999999" stroke="#3f4a54" stroke-width="1.3" fill="none"/>
<text transform="translate(209.6 1089.5) scale(0.945 1)" fill="#98a2ac">4</text>
<path d="M204 1089.5 Q208.6 1092.3 208.6 1095.8 Q208.6 1099.3 204 1102.1" stroke="#3f4a54" stroke-width="1.3" fill="none"/>
<text transform="translate(209.6 1110.2) scale(0.945 1)" fill="#98a2ac">5</text>
<path d="M204 1110.2 Q208.6 1113.0 208.6 1116.5 Q208.6 1120.0 204 1122.8" stroke="#3f4a54" stroke-width="1.3" fill="none"/>
<text transform="translate(209.6 1130.8) scale(0.945 1)" fill="#98a2ac">6</text>
<path d="M204 1130.8 Q208.6 1133.6 208.6 1137.1 Q208.6 1140.6 204 1143.3999999999999" stroke="#3f4a54" stroke-width="1.3" fill="none"/>
<text transform="translate(209.6 1151.5) scale(0.945 1)" fill="#98a2ac">7</text>
<path d="M204 1151.5 Q208.6 1154.3 208.6 1157.8 Q208.6 1161.3 204 1164.1" stroke="#3f4a54" stroke-width="1.3" fill="none"/>
<text transform="translate(209.6 1172.2) scale(0.945 1)" fill="#98a2ac">8</text>
<path d="M204 1172.2 Q208.6 1175.0 208.6 1178.5 Q208.6 1182.0 204 1184.8" stroke="#3f4a54" stroke-width="1.3" fill="none"/>
<text transform="translate(209.6 1192.8) scale(0.945 1)" fill="#98a2ac">9</text>
<path d="M204 1192.8 Q208.6 1195.6 208.6 1199.1 Q208.6 1202.6 204 1205.3999999999999" stroke="#3f4a54" stroke-width="1.3" fill="none"/>
<text transform="translate(209.6 1213.5) scale(0.945 1)" fill="#98a2ac">10</text>
<path d="M204 1213.5 Q208.6 1216.3 208.6 1219.8 Q208.6 1223.3 204 1226.1" stroke="#3f4a54" stroke-width="1.3" fill="none"/>
<text transform="translate(209.6 1234.2) scale(0.945 1)" fill="#98a2ac">11</text>
<path d="M204 1234.2 Q208.6 1237.0 208.6 1240.5 Q208.6 1244.0 204 1246.8" stroke="#3f4a54" stroke-width="1.3" fill="none"/>
<text transform="translate(209.6 1254.9) scale(0.945 1)" fill="#98a2ac">12</text>
<path d="M204 1254.9 Q208.6 1257.7 208.6 1261.2 Q208.6 1264.7 204 1267.5" stroke="#3f4a54" stroke-width="1.3" fill="none"/>
<text transform="translate(209.6 1275.5) scale(0.945 1)" fill="#98a2ac">13</text>
<path d="M204 1275.5 Q208.6 1278.3 208.6 1281.8 Q208.6 1285.3 204 1288.1" stroke="#3f4a54" stroke-width="1.3" fill="none"/>
<text transform="translate(209.6 1296.2) scale(0.945 1)" fill="#98a2ac">14</text>
<path d="M204 1296.2 Q208.6 1299.0 208.6 1302.5 Q208.6 1306.0 204 1308.8" stroke="#3f4a54" stroke-width="1.3" fill="none"/>
<text transform="translate(209.6 1316.9) scale(0.945 1)" fill="#98a2ac">15</text>
<path d="M204 1316.9 Q208.6 1319.7 208.6 1323.2 Q208.6 1326.7 204 1329.5" stroke="#3f4a54" stroke-width="1.3" fill="none"/>
<text transform="translate(209.6 1337.5) scale(0.945 1)" fill="#98a2ac">16</text>
<path d="M204 1337.5 Q208.6 1340.3 208.6 1343.8 Q208.6 1347.3 204 1350.1" stroke="#3f4a54" stroke-width="1.3" fill="none"/>
<text transform="translate(209.6 1358.2) scale(0.945 1)" fill="#98a2ac">17</text>
<path d="M204 1358.2 Q208.6 1361.0 208.6 1364.5 Q208.6 1368.0 204 1370.8" stroke="#3f4a54" stroke-width="1.3" fill="none"/>
<text transform="translate(209.6 1378.9) scale(0.945 1)" fill="#98a2ac">18</text>
<path d="M204 1378.9 Q208.6 1381.7 208.6 1385.2 Q208.6 1388.7 204 1391.5" stroke="#3f4a54" stroke-width="1.3" fill="none"/>
<text transform="translate(209.6 1399.5) scale(0.945 1)" fill="#98a2ac">19</text>
<path d="M204 1399.5 Q208.6 1402.3 208.6 1405.8 Q208.6 1409.3 204 1412.1" stroke="#3f4a54" stroke-width="1.3" fill="none"/>
<text transform="translate(209.6 1420.2) scale(0.945 1)" fill="#98a2ac">20</text>
<path d="M204 1420.2 Q208.6 1423.0 208.6 1426.5 Q208.6 1430.0 204 1432.8" stroke="#3f4a54" stroke-width="1.3" fill="none"/>
<text transform="translate(20.5 1462.0) scale(0.945 1)" textLength="129.1" lengthAdjust="spacingAndGlyphs">БЛОК УПРАВЛЕНИЯ</text>
<text transform="translate(20.5 1477.4) scale(0.945 1)" textLength="160.8" lengthAdjust="spacingAndGlyphs">ТОПЛИВНЫМ НАСОСОМ</text>
<text transform="translate(20.5 1492.8) scale(0.945 1)" textLength="222.2" lengthAdjust="spacingAndGlyphs">(ПРАВАЯ ЗАДН ЧАСТЬ ПОЛА БАГАЖ)</text>
<text transform="translate(1378 798.4) scale(0.945 1)" text-anchor="end">ЗЕЛ-БЕЛ</text>
<text transform="translate(1394 798.4) scale(0.945 1)">1</text>
<text transform="translate(1378 839.8) scale(0.945 1)" text-anchor="end">КОР-БЕЛ</text>
<text transform="translate(1394 839.8) scale(0.945 1)">2</text>
<text transform="translate(1378 901.8) scale(0.945 1)" text-anchor="end">РОЗО</text>
<text transform="translate(1394 901.8) scale(0.945 1)">3</text>
<text transform="translate(1378 963.8) scale(0.945 1)" text-anchor="end">КОР</text>
<text transform="translate(1394 963.8) scale(0.945 1)">4</text>
<text transform="translate(1378 984.4) scale(0.945 1)" text-anchor="end">СЕР</text>
<text transform="translate(1394 984.4) scale(0.945 1)">5</text>
<text transform="translate(1455 1028.5) scale(0.945 1)" text-anchor="middle" textLength="44.4" lengthAdjust="spacingAndGlyphs">ДАТЧИК</text>
<text transform="translate(1452.5 1044.5) scale(0.945 1)" text-anchor="middle" textLength="64.6" lengthAdjust="spacingAndGlyphs">УРОВНЯ ТОП</text>
<text transform="translate(447.5 1628) rotate(-90) scale(0.945 1)">ЖЁЛ-БЕЛ</text>
<text transform="translate(447.5 1652) rotate(-90) scale(0.945 1)">1</text>
<text transform="translate(489.5 1628) rotate(-90) scale(0.945 1)">РОЗ-СИН</text>
<text transform="translate(489.5 1652) rotate(-90) scale(0.945 1)">2</text>
<text transform="translate(531.0 1628) rotate(-90) scale(0.945 1)">КРА-БЕЛ</text>
<text transform="translate(531.0 1652) rotate(-90) scale(0.945 1)">3</text>
<text transform="translate(571.5 1628) rotate(-90) scale(0.945 1)">СЕР</text>
<text transform="translate(571.5 1652) rotate(-90) scale(0.945 1)">4</text>
<text transform="translate(613.0 1628) rotate(-90) scale(0.945 1)">КОР</text>
<text transform="translate(613.0 1652) rotate(-90) scale(0.945 1)">5</text>
<text transform="translate(737.5 1628) rotate(-90) scale(0.945 1)">КОР</text>
<text transform="translate(537 1785.5) scale(0.945 1)" text-anchor="middle">ДАТЧИК ДАВЛЕН ТОПЛИВА</text>
<text transform="translate(745 1678) scale(0.945 1)" text-anchor="middle">G4</text>
<text transform="translate(745 1696) scale(0.945 1)" text-anchor="middle">(КЛАСС GLA:</text>
<text transform="translate(745 1711) scale(0.945 1)" text-anchor="middle">ИЛИ</text>
<text transform="translate(745 1726) scale(0.945 1)" text-anchor="middle">КЛАСС CLA:</text>
<text transform="translate(745 1741.5) scale(0.945 1)" text-anchor="middle">ПРАВА СТОР, ПЕРЕД НИЖНЯ</text>
<text transform="translate(745 1757) scale(0.945 1)" text-anchor="middle">ЧАСТЬ СТОЙКИ ЗАДНЕГ</text>
<text transform="translate(745 1772.5) scale(0.945 1)" text-anchor="middle">ЛЕВ. ДВЕРИ ПРОЁМА</text>
<text transform="translate(745 1788) scale(0.945 1)" text-anchor="middle">СТОРОН ДВЕРНОГО ПОРОГ)</text>
<text transform="translate(900 1736) rotate(-90) scale(0.945 1)" textLength="25.4" lengthAdjust="spacingAndGlyphs">ЗЕЛ</text>
<text transform="translate(900 1770) rotate(-90) scale(0.945 1)" textLength="27.5" lengthAdjust="spacingAndGlyphs">БЕЛ</text>
<text transform="translate(919 1736) rotate(-90) scale(0.945 1)" textLength="25.4" lengthAdjust="spacingAndGlyphs">КОР</text>
<text transform="translate(919 1770) rotate(-90) scale(0.945 1)" textLength="27.5" lengthAdjust="spacingAndGlyphs">КРА</text>
<text transform="translate(940 1736) rotate(-90) scale(0.945 1)" textLength="25.4" lengthAdjust="spacingAndGlyphs">СЕР</text>
<text transform="translate(940 1770) rotate(-90) scale(0.945 1)" textLength="27.5" lengthAdjust="spacingAndGlyphs">ЗЕЛ</text>
<text transform="translate(963 1736) rotate(-90) scale(0.945 1)" textLength="25.4" lengthAdjust="spacingAndGlyphs">ЗЕЛ</text>
<text transform="translate(963 1770) rotate(-90) scale(0.945 1)" textLength="27.5" lengthAdjust="spacingAndGlyphs">БЕЛ</text>
<text transform="translate(982 1736) rotate(-90) scale(0.945 1)" textLength="25.4" lengthAdjust="spacingAndGlyphs">ЧЁР</text>
<text transform="translate(982 1770) rotate(-90) scale(0.945 1)" textLength="27.5" lengthAdjust="spacingAndGlyphs">РОЗ</text>
<text transform="translate(1003 1736) rotate(-90) scale(0.945 1)" textLength="25.4" lengthAdjust="spacingAndGlyphs">СЕР</text>
<text transform="translate(1003 1770) rotate(-90) scale(0.945 1)" textLength="27.5" lengthAdjust="spacingAndGlyphs">БЕЛ</text>
<text transform="translate(1024 1736) rotate(-90) scale(0.945 1)" textLength="25.4" lengthAdjust="spacingAndGlyphs">ЖЁЛ</text>
<text transform="translate(1024 1770) rotate(-90) scale(0.945 1)" textLength="27.5" lengthAdjust="spacingAndGlyphs">БЕЛ</text>
<text transform="translate(1043 1736) rotate(-90) scale(0.945 1)" textLength="25.4" lengthAdjust="spacingAndGlyphs">КРА</text>
<text transform="translate(1043 1770) rotate(-90) scale(0.945 1)" textLength="27.5" lengthAdjust="spacingAndGlyphs">ЧЁР</text>
<text transform="translate(860.5 1770) rotate(-90) scale(0.945 1)" textLength="27.5" lengthAdjust="spacingAndGlyphs">БЕЛ</text>
<text transform="translate(880.5 1770) rotate(-90) scale(0.945 1)" textLength="27.5" lengthAdjust="spacingAndGlyphs">РОЗ</text>
<text transform="translate(1066.5 1770) rotate(-90) scale(0.945 1)" textLength="27.5" lengthAdjust="spacingAndGlyphs">КОР</text>
<text transform="translate(1107.5 1770) rotate(-90) scale(0.945 1)" textLength="27.5" lengthAdjust="spacingAndGlyphs">КОР</text>
<text transform="translate(983 1819.5) scale(0.945 1)" text-anchor="middle" textLength="120.6" lengthAdjust="spacingAndGlyphs">ТОПЛИВНЫЙ НАСОС</text>
<text transform="translate(1230 1732) rotate(-90) scale(0.945 1)">КОР</text>
<text transform="translate(1249 1732) rotate(-90) scale(0.945 1)">КОР</text>
<text transform="translate(1273 1732) rotate(-90) scale(0.945 1)">КОР-БЕЛ</text>
<text transform="translate(1261 1785) scale(0.945 1)" text-anchor="middle">G301</text>
<text transform="translate(1261 1801) scale(0.945 1)" text-anchor="middle">(КЛАСС GLA: ПРАВА ЗАДН ЧАСТЬ</text>
<text transform="translate(1261 1816.5) scale(0.945 1)" text-anchor="middle">БАГАЖН ОТДЕЛЕНИЯ)</text>
<text transform="translate(1261 1832) scale(0.945 1)" text-anchor="middle">(CLA: ПРАВА СТОРО ЗАДНЕЙ</text>
<text transform="translate(1261 1846.5) scale(0.945 1)" text-anchor="middle">ЧАСТИ ПОЛА БАГАЖН ОТДЕЛА)</text>
<text transform="translate(13 1847) scale(0.945 1)" font-size="10.5" textLength="105.8" lengthAdjust="spacingAndGlyphs" fill="#666">Copyright © AutoData</text>
</g></g>
<g clip-path="url(#cb)">
<rect x="0" y="540" width="9" height="1315.5" fill="url(#gl)"/>
<rect x="1491" y="540" width="9" height="1315.5" fill="url(#gr)"/>
<rect x="0" y="1852" width="1500" height="9" fill="url(#gb)"/>
</g>
</svg>
</body></html>
